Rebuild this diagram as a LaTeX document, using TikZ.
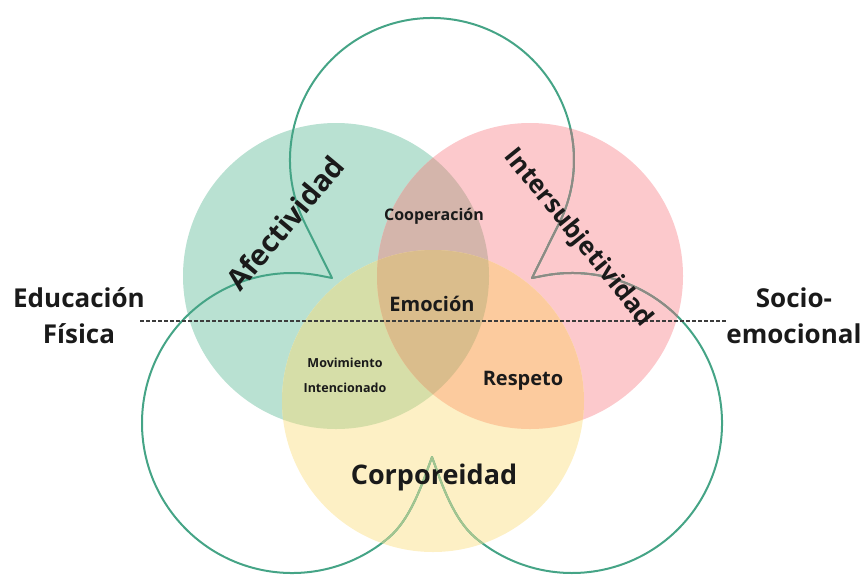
\documentclass[tikz,border=0pt]{standalone}
\usepackage{fontspec}
\setmainfont{Open Sans}
\definecolor{cg}{HTML}{B9E1D2}
\definecolor{cp}{HTML}{FCC9CC}
\definecolor{cy}{HTML}{FDF0C5}
\definecolor{cgp}{HTML}{D4B5AB}
\definecolor{cgy}{HTML}{D6DEA8}
\definecolor{cpy}{HTML}{FCCB9E}
\definecolor{cgpy}{HTML}{DABD8C}
\definecolor{oteal}{HTML}{45A486}
\definecolor{opink}{HTML}{8E8A84}
\definecolor{oyel}{HTML}{A3C58F}
\definecolor{txt}{HTML}{1A1A1A}
\newcommand\trefoilpath{(PL) -- ([shift={(-153.6:142)}]CT) arc[start angle=-153.6, end angle=-386.4, radius=142] -- (PR) -- ([shift={(-258.8:150)}]CBR) arc[start angle=-258.8, end angle=-490, radius=150] .. controls (452.6,-518.6) and (440.6,-480.5) .. (PB) .. controls (423.4,-480.5) and (411.4,-518.6) .. ([shift={(-50:150)}]CBL) arc[start angle=-50, end angle=-281.2, radius=150] -- cycle}
\tikzset{
  outline/.style={line width=2pt, draw=oteal, line join=round},
  lbl/.style={text=txt, font=\bfseries, inner sep=0pt, align=center},
}
\begin{document}
\begin{tikzpicture}[x=1pt,y=1pt]
\path[use as bounding box] (0,0) rectangle (866,-574);
\coordinate (CG) at (336,-276);
\coordinate (CP) at (530,-276);
\coordinate (CY) at (433,-401);
\coordinate (CT) at (432,-160);
\coordinate (CBL) at (292,-423);
\coordinate (CBR) at (572,-423);
\coordinate (PL) at (332,-278);
\coordinate (PR) at (532,-278);
\coordinate (PB) at (432,-457);
% circles
\fill[cg] (CG) circle[radius=153];
\fill[cp] (CP) circle[radius=153];
\fill[cy] (CY) circle[radius=151];
\begin{scope}\clip (CG) circle[radius=153]; \fill[cgp] (CP) circle[radius=153];\end{scope}
\begin{scope}\clip (CG) circle[radius=153]; \fill[cgy] (CY) circle[radius=151];\end{scope}
\begin{scope}\clip (CP) circle[radius=153]; \fill[cpy] (CY) circle[radius=151];\end{scope}
\begin{scope}\clip (CG) circle[radius=153]; \clip (CP) circle[radius=153]; \fill[cgpy] (CY) circle[radius=151];\end{scope}
% outline
\draw[outline] \trefoilpath;
\begin{scope}\clip (CP) circle[radius=153]; \draw[outline, draw=opink] \trefoilpath;\end{scope}
\begin{scope}\clip (CY) circle[radius=151]; \draw[outline, draw=oyel] \trefoilpath;\end{scope}
% dashed line
\coordinate (DL) at (140,-321);
\coordinate (DR) at (727,-321);
\draw[line width=1.5pt, draw=txt!85, dash pattern=on 4pt off 2pt] (DL) -- (DR);
% labels
\node[lbl, font=\bfseries\fontsize{26}{36}\selectfont] (ef) at (79,-316) {Educación\\Física};
\node[lbl, font=\bfseries\fontsize{26}{36}\selectfont] (se) at (794,-316) {Socio-\\emocional};
\node[lbl, font=\bfseries\fontsize{29}{32}\selectfont, rotate=50] (af) at (285,-223) {Afectividad};
\node[lbl, font=\bfseries\fontsize{25.5}{28}\selectfont, rotate=-51] (in) at (578,-238) {Intersubjetividad};
\node[lbl, font=\bfseries\fontsize{16}{20}\selectfont] (co) at (434,-216) {Cooperación};
\node[lbl, font=\bfseries\fontsize{20}{24}\selectfont] (em) at (432,-304) {Emoción};
\node[lbl, font=\bfseries\fontsize{12.5}{25}\selectfont] (mi) at (345,-375) {Movimiento\\Intencionado};
\node[lbl, font=\bfseries\fontsize{20}{24}\selectfont] (re) at (523,-381) {Respeto};
\node[lbl, font=\bfseries\fontsize{27}{32}\selectfont] (cr) at (434,-477) {Corporeidad};
\end{tikzpicture}
\end{document}
